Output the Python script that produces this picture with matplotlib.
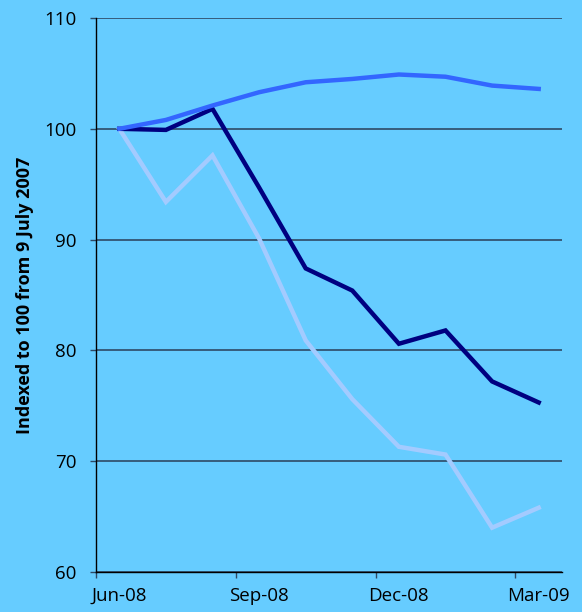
import matplotlib
matplotlib.use("Agg")
import matplotlib.pyplot as plt
from matplotlib import font_manager

months = ["Jun-08", "Jul-08", "Aug-08", "Sep-08", "Oct-08", "Nov-08",
          "Dec-08", "Jan-09", "Feb-09", "Mar-09"]
series_blue = [100.0, 100.8, 102.1, 103.3, 104.2, 104.5, 104.9, 104.7, 103.9, 103.6]
series_navy = [100.0, 99.9, 101.8, 94.7, 87.4, 85.4, 80.6, 81.8, 77.2, 75.3]
series_light = [100.0, 93.4, 97.6, 90.1, 80.9, 75.6, 71.3, 70.6, 64.0, 65.8]
tick_labels = ["Jun-08", "Sep-08", "Dec-08", "Mar-09"]
y_label = "Indexed to 100 from 9 July 2007"

plt.rcParams['font.family'] = ['Open Sans', 'DejaVu Sans']
bg = "#66CCFF"
fig = plt.figure(figsize=(5.82, 6.12), dpi=100, facecolor=bg)
ax = fig.add_axes([96/582, 40/612, 466/582, 554/612], facecolor=bg)

x = list(range(len(months)))
ax.plot(x, series_light, color="#A3CBFF", lw=3.2, solid_joinstyle="miter", zorder=3)
ax.plot(x, series_navy, color="#000080", lw=3.2, solid_joinstyle="miter", zorder=4)
ax.plot(x, series_blue, color="#3366FF", lw=3.2, solid_joinstyle="miter", zorder=5)

ax.set_xlim(-0.5, len(months) - 0.5)
ax.set_ylim(60, 110)
ax.set_yticks([60, 70, 80, 90, 100, 110])
ax.yaxis.grid(True, color="#2E4A66", lw=1.2, zorder=1)
ax.set_axisbelow(True)

# tick marks between categories, labels centred on categories
idx = [months.index(t) for t in tick_labels]
ax.set_xticks([i - 0.5 for i in idx])
ax.set_xticklabels([])
ax.set_xticks(idx, minor=True)
ax.set_xticklabels(tick_labels, minor=True)

for s in ["top", "right"]:
    ax.spines[s].set_visible(False)
for s in ["left", "bottom"]:
    ax.spines[s].set_color("black")
    ax.spines[s].set_linewidth(1.0)

ax.tick_params(axis="y", direction="out", length=4.3, width=1, color="#2E4A66",
               labelsize=13.5, pad=10, labelcolor="black")
ax.tick_params(axis="x", which="major", direction="out", length=4, width=1,
               color="#2E4A66")
ax.tick_params(axis="x", which="minor", length=0, labelsize=13.5, pad=11,
               labelcolor="black")

try:
    font_manager.findfont(font_manager.FontProperties(family="Liberation Sans Narrow",
                                                      weight="bold"),
                          fallback_to_default=False)
    lab_family, lab_size = ["Liberation Sans Narrow"], 16
except Exception:
    lab_family, lab_size = ["Open Sans", "DejaVu Sans"], 13

ax.set_ylabel(y_label, fontsize=lab_size, fontweight="bold", family=lab_family)
ax.yaxis.set_label_coords(-0.133, 0.5)

fig.savefig("out.png", dpi=100, facecolor=bg)
